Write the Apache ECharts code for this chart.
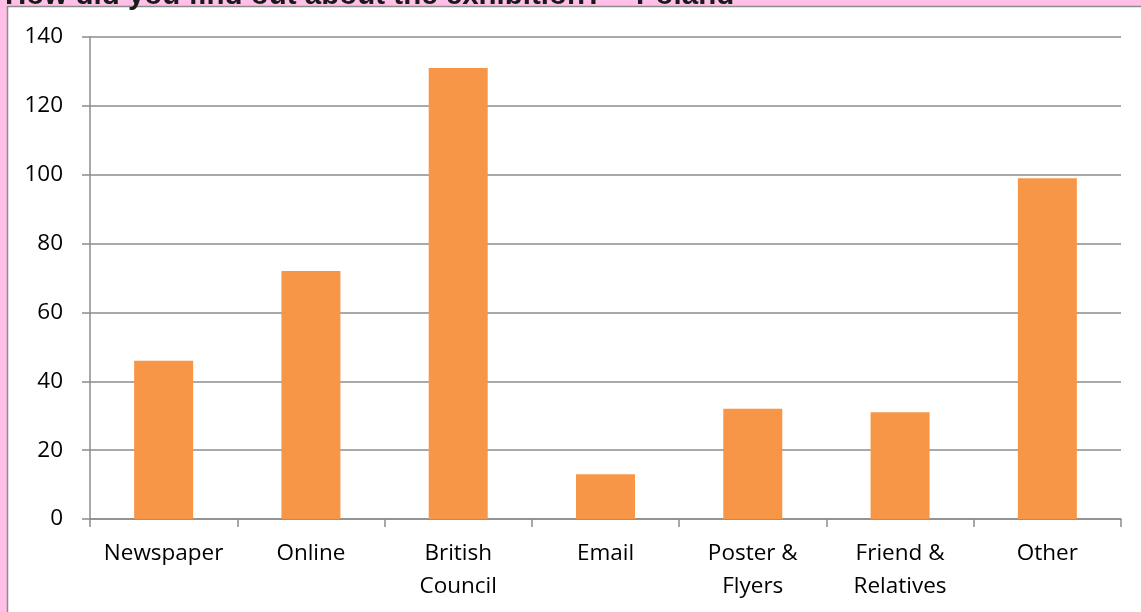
<!DOCTYPE html>
<html>
<head>
<meta charset="utf-8">
<script src="https://cdn.jsdelivr.net/npm/echarts@6/dist/echarts.min.js"></script>
<style>
html,body{margin:0;padding:0;background:#FFBFE6;}
#c{width:1141px;height:612px;}
</style>
</head>
<body>
<div id="c"></div>
<script>
var titleText = 'How did you find out about the exhibition? – Poland';
var categories = ['Newspaper', 'Online', 'British\nCouncil', 'Email', 'Poster &\nFlyers', 'Friend &\nRelatives', 'Other'];
var values = [46, 72, 131, 13, 32, 31, 99];
var yTicks = [0, 20, 40, 60, 80, 100, 120, 140];

var chart = echarts.init(document.getElementById('c'));
chart.setOption({
  backgroundColor: '#FFBFE6',
  animation: false,
  graphic: [{
    type: 'rect', z: -10, silent: true,
    shape: {x: 7.5, y: 6.5, width: 1200, height: 700},
    style: {fill: '#ffffff', stroke: '#8c8c8c', lineWidth: 1.5}
  }],
  title: {
    text: titleText, left: 5, top: -19, padding: 0,
    textStyle: {fontFamily: 'Liberation Sans', fontWeight: 'bold', fontSize: 29.5, color: '#1a1a1a'}
  },
  grid: {left: 90, right: 20, top: 37, bottom: 93, containLabel: false},
  xAxis: {
    type: 'category', data: categories,
    axisLine: {lineStyle: {color: '#8c8c8c', width: 1.5}},
    axisTick: {show: true, alignWithLabel: false, length: 8, lineStyle: {color: '#8c8c8c', width: 1.5}},
    axisLabel: {color: '#000', fontFamily: 'Open Sans', fontSize: 22.5, lineHeight: 33, margin: 18, interval: 0}
  },
  yAxis: {
    type: 'value', min: yTicks[0], max: yTicks[yTicks.length - 1], interval: 20,
    axisLine: {show: true, lineStyle: {color: '#8c8c8c', width: 1.5}},
    axisTick: {show: true, length: 8, lineStyle: {color: '#8c8c8c', width: 1.5}},
    splitLine: {lineStyle: {color: '#8c8c8c', width: 1.5}},
    axisLabel: {color: '#000', fontFamily: 'Open Sans', fontSize: 22.5, margin: 27}
  },
  series: [{
    type: 'bar', data: values, barWidth: 59,
    itemStyle: {color: '#F79646'}
  }]
});
</script>
</body>
</html>
